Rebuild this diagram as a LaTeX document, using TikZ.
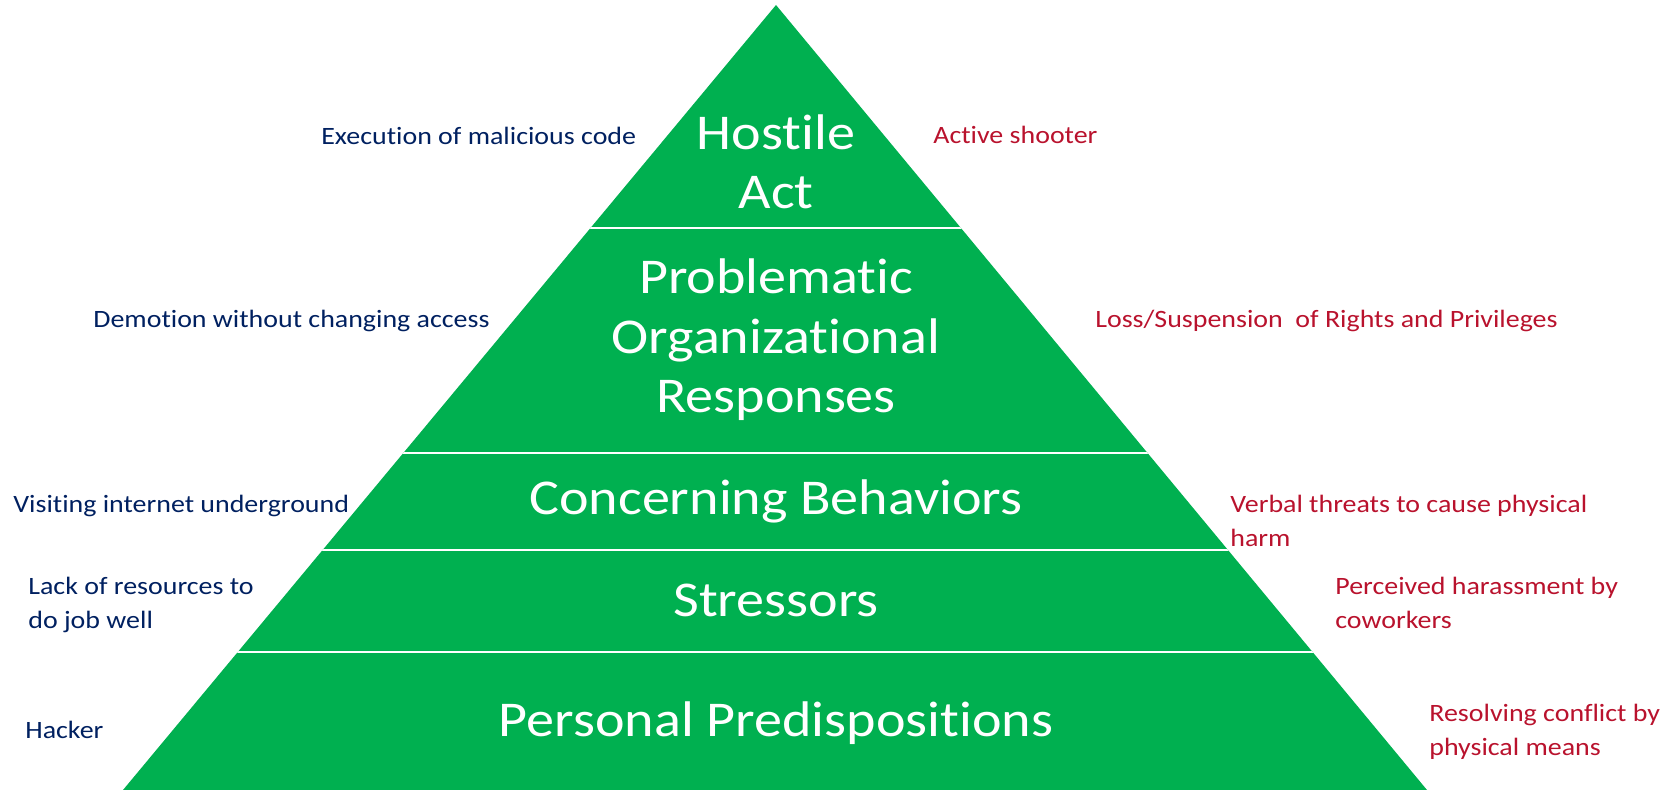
\documentclass[tikz,border=0pt]{standalone}
\usepackage{fontspec}
\setmainfont{Carlito}[FakeStretch=1.12,Ligatures=NoCommon]
\definecolor{pyrgreen}{HTML}{00B050}
\definecolor{navytxt}{HTML}{002060}
\definecolor{redtxt}{RGB}{185,18,45}
\tikzset{tier/.style={
    text=white,
    font=\fontsize{28.5}{34.1}\selectfont,
    align=center,
    inner sep=0pt,
    anchor=base
  },
  sidebox/.style={
    font=\fontsize{14.2}{19}\selectfont,
    align=left,
    inner sep=0pt,
    anchor=base west
  },
  leftbox/.style={sidebox,text=navytxt},
  rightbox/.style={sidebox,text=redtxt},
}

\begin{document}
\begin{tikzpicture}[x=0.02cm,y=-0.02cm]
  \useasboundingbox (0,0) rectangle (1671,790);
  \coordinate (apex) at (776,5);
  \coordinate (baseL) at (123,790);
  \coordinate (baseR) at (1427,790);
  \fill[pyrgreen] (apex) -- (baseL) -- (baseR) -- cycle;
  % white cuts between the levels
  \begin{scope}
    \clip (apex) -- (baseL) -- (baseR) -- cycle;
    \foreach \y in {228,453,550,652}
      \draw[white,line width=1.4pt] (0,\y) -- (1671,\y);
  \end{scope}
  % anchors sit on the last line
  \node[tier] (hostile) at (776,209) {Hostile\\Act};
  \node[tier] (problem) at (776,413) {Problematic\\Organizational\\Responses};
  \node[tier] (concern) at (776,515) {Concerning Behaviors};
  \node[tier] (stress) at (776,616) {Stressors};
  \node[tier] (predisp) at (776,736) {Personal Predispositions};
  \node[leftbox] (malcode) at (321,145) {Execution of malicious code};
  \node[leftbox] (demotion) at (93,328) {Demotion without changing access};
  \node[leftbox] (visiting) at (13,513) {Visiting internet underground};
  \node[leftbox] (resources) at (28,628) {Lack of resources to\\do job well};
  \node[leftbox] (hacker) at (25,738) {Hacker};
  \node[rightbox] (shooter) at (933,144) {Active shooter};
  \node[rightbox] (loss) at (1095,328) {Loss/Suspension\ \ of Rights and Privileges};
  \node[rightbox] (verbal) at (1230,546) {Verbal threats to cause physical\\harm};
  \node[rightbox] (harass) at (1335,628) {Perceived harassment by\\coworkers};
  \node[rightbox] (conflict) at (1429,755) {Resolving conflict by\\physical means};
\end{tikzpicture}
\end{document}
